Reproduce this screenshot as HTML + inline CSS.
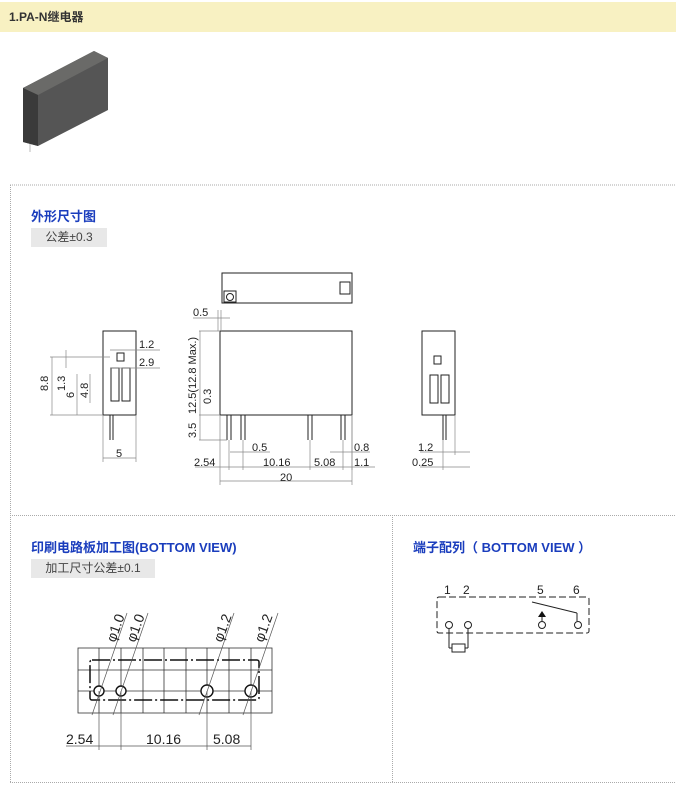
<!DOCTYPE html>
<html><head><meta charset="utf-8"><style>
body{margin:0;width:676px;height:785px;background:#fff;position:relative;font-family:"Liberation Sans","Noto Sans CJK SC",sans-serif;overflow:hidden}
.hdr{position:absolute;left:0;top:2px;width:676px;height:30px;background:#f8f1c2;font-size:12px;font-weight:bold;color:#333;line-height:30px;padding-left:9px;box-sizing:border-box}
.t{position:absolute;color:#1a3dbd;font-weight:bold;font-size:13px}
.tag{position:absolute;background:#e8e8e8;color:#444;font-size:12px;height:19px;line-height:19px;text-align:center}
svg{position:absolute;left:0;top:0}
</style></head><body>
<div class="hdr">1.PA-N继电器</div>
<div class="t" style="left:31px;top:206px">外形尺寸图</div>
<div class="tag" style="left:31px;top:228px;width:76px">公差±0.3</div>
<div class="t" style="left:31px;top:537px">印刷电路板加工图(BOTTOM VIEW)</div>
<div class="tag" style="left:31px;top:559px;width:124px">加工尺寸公差±0.1</div>
<div class="t" style="left:413px;top:537px">端子配列（ BOTTOM VIEW ）</div>
<svg width="676" height="785" font-family="Liberation Sans, sans-serif" font-size="11" fill="#222">
<g stroke="#aaa" stroke-dasharray="1,1" fill="none">
<line x1="10" y1="185" x2="676" y2="185"/><line x1="10.5" y1="185" x2="10.5" y2="782"/>
<line x1="10" y1="515.5" x2="676" y2="515.5"/><line x1="392.5" y1="515" x2="392.5" y2="782"/>
<line x1="10" y1="782.5" x2="676" y2="782.5"/></g>
<!-- relay photo -->
<polygon points="23,88 94,51 108,58 108,110 38,146 23,142" fill="#555"/>
<polygon points="23,88 94,51 108,58 38,95" fill="#6a6a68"/>
<polygon points="23,88 38,95 38,146 23,142" fill="#3a3a3a"/>
<line x1="30" y1="144" x2="30" y2="152" stroke="#bbb"/>
<g stroke="#222" fill="none" stroke-width="1">
<!-- top view -->
<rect x="222" y="273" width="130" height="30"/><rect x="224" y="291" width="12" height="11"/><circle cx="230" cy="297" r="3.5"/><rect x="340" y="282" width="10" height="12"/>
<!-- front -->
<rect x="220" y="331" width="132" height="84"/>
<line x1="227" y1="415" x2="227" y2="440"/><line x1="231" y1="415" x2="231" y2="440"/>
<line x1="241" y1="415" x2="241" y2="440"/><line x1="245" y1="415" x2="245" y2="440"/>
<line x1="308" y1="415" x2="308" y2="440"/><line x1="312" y1="415" x2="312" y2="440"/>
<line x1="341" y1="415" x2="341" y2="440"/><line x1="345" y1="415" x2="345" y2="440"/>
<!-- left side -->
<rect x="103" y="331" width="33" height="84"/>
<rect x="111" y="368" width="8" height="33"/><rect x="122" y="368" width="8" height="33"/><rect x="117" y="353" width="7" height="8"/>
<line x1="110" y1="415" x2="110" y2="440"/><line x1="113" y1="415" x2="113" y2="440"/>
<!-- right side -->
<rect x="422" y="331" width="33" height="84"/>
<rect x="430" y="375" width="8" height="28"/><rect x="441" y="375" width="8" height="28"/><rect x="434" y="356" width="7" height="8"/>
<line x1="443" y1="415" x2="443" y2="440"/><line x1="446" y1="415" x2="446" y2="440"/>
</g>
<g stroke="#888" stroke-width="0.7" fill="none">
<line x1="220" y1="415" x2="220" y2="485"/><line x1="352" y1="415" x2="352" y2="485"/><line x1="220" y1="481" x2="352" y2="481"/>
<line x1="229" y1="440" x2="229" y2="470"/><line x1="243" y1="440" x2="243" y2="470"/><line x1="310" y1="440" x2="310" y2="470"/><line x1="343" y1="440" x2="343" y2="470"/>
<line x1="195" y1="467" x2="375" y2="467"/><line x1="230" y1="452" x2="270" y2="452"/><line x1="330" y1="452" x2="370" y2="452"/>
<line x1="199" y1="331" x2="220" y2="331"/><line x1="199" y1="440" x2="227" y2="440"/><line x1="199" y1="415" x2="220" y2="415"/><line x1="200" y1="331" x2="200" y2="440"/>
<line x1="193" y1="318" x2="230" y2="318"/><line x1="218" y1="310" x2="218" y2="331"/><line x1="221" y1="310" x2="221" y2="331"/>
<line x1="103" y1="415" x2="103" y2="462"/><line x1="136" y1="415" x2="136" y2="462"/><line x1="103" y1="458" x2="136" y2="458"/>
<line x1="50" y1="357" x2="110" y2="357"/><line x1="50" y1="415" x2="103" y2="415"/><line x1="52" y1="357" x2="52" y2="415"/>
<line x1="77" y1="374" x2="77" y2="415"/><line x1="90" y1="374" x2="90" y2="403"/><line x1="66" y1="350" x2="66" y2="368"/>
<line x1="110" y1="350" x2="160" y2="350"/><line x1="110" y1="368" x2="160" y2="368"/>
<line x1="420" y1="452" x2="470" y2="452"/><line x1="420" y1="467" x2="470" y2="467"/><line x1="443" y1="440" x2="443" y2="470"/><line x1="455" y1="415" x2="455" y2="455"/>
<line x1="352" y1="415" x2="352" y2="470"/>
</g>
<g font-size="11">
<text x="193" y="316">0.5</text>
<text x="139" y="348">1.2</text><text x="139" y="366">2.9</text>
<text x="48" y="391" transform="rotate(-90 48 391)">8.8</text>
<text x="65" y="391" transform="rotate(-90 65 391)">1.3</text>
<text x="74" y="398" transform="rotate(-90 74 398)">6</text>
<text x="88" y="398" transform="rotate(-90 88 398)">4.8</text>
<text x="116" y="457">5</text>
<text x="196" y="414" transform="rotate(-90 196 414)">12.5(12.8 Max.)</text>
<text x="211" y="404" transform="rotate(-90 211 404)">0.3</text>
<text x="196" y="438" transform="rotate(-90 196 438)">3.5</text>
<text x="252" y="451">0.5</text><text x="354" y="451">0.8</text>
<text x="194" y="466">2.54</text><text x="263" y="466">10.16</text><text x="314" y="466">5.08</text><text x="354" y="466">1.1</text>
<text x="280" y="481">20</text>
<text x="418" y="451">1.2</text><text x="412" y="466">0.25</text>
</g>
<!-- PCB -->
<g stroke="#333" stroke-width="0.8" fill="none">
<rect x="78" y="648" width="194" height="65"/>
<line x1="78" y1="670" x2="272" y2="670"/><line x1="78" y1="691" x2="272" y2="691"/>
<line x1="99" y1="648" x2="99" y2="713"/><line x1="121" y1="648" x2="121" y2="713"/><line x1="143" y1="648" x2="143" y2="713"/><line x1="164" y1="648" x2="164" y2="713"/><line x1="186" y1="648" x2="186" y2="713"/><line x1="207" y1="648" x2="207" y2="713"/><line x1="229" y1="648" x2="229" y2="713"/><line x1="251" y1="648" x2="251" y2="713"/>
</g>
<rect x="90" y="660" width="169" height="40" rx="2" fill="none" stroke="#111" stroke-width="1.5" stroke-dasharray="18,3,2,3"/>
<g stroke="#111" stroke-width="1.4" fill="#fff"><circle cx="99" cy="691" r="5"/><circle cx="121" cy="691" r="5"/><circle cx="207" cy="691" r="6"/><circle cx="251" cy="691" r="6"/></g>
<g stroke="#555" stroke-width="0.7" fill="none">
<line x1="92" y1="715" x2="127" y2="613"/><line x1="113" y1="715" x2="148" y2="613"/><line x1="199" y1="715" x2="234" y2="613"/><line x1="243" y1="715" x2="278" y2="613"/>
<line x1="99" y1="691" x2="99" y2="750"/><line x1="121" y1="691" x2="121" y2="750"/><line x1="207" y1="691" x2="207" y2="750"/><line x1="251" y1="691" x2="251" y2="750"/>
<line x1="66" y1="746" x2="251" y2="746"/>
</g>
<g font-size="14">
<text x="115" y="643" transform="rotate(-70 115 643)">φ1.0</text>
<text x="135" y="643" transform="rotate(-70 135 643)">φ1.0</text>
<text x="222" y="643" transform="rotate(-70 222 643)">φ1.2</text>
<text x="263" y="643" transform="rotate(-70 263 643)">φ1.2</text>
<text x="66" y="744">2.54</text><text x="146" y="744">10.16</text><text x="213" y="744">5.08</text>
</g>
<!-- terminal -->
<rect x="437" y="597" width="152" height="36" rx="2" fill="none" stroke="#222" stroke-width="1" stroke-dasharray="7,3"/>
<g font-size="12"><text x="444" y="594">1</text><text x="463" y="594">2</text><text x="537" y="594">5</text><text x="573" y="594">6</text></g>
<g stroke="#222" fill="#fff"><line x1="532" y1="602" x2="577" y2="613" /><line x1="577" y1="613" x2="577" y2="621"/>
<line x1="449" y1="629" x2="449" y2="648"/><line x1="468" y1="629" x2="468" y2="648"/><line x1="449" y1="648" x2="452" y2="648"/><line x1="465" y1="648" x2="468" y2="648"/>
<rect x="452" y="644" width="13" height="8"/>
<circle cx="449" cy="625" r="3.5"/><circle cx="468" cy="625" r="3.5"/><circle cx="542" cy="625" r="3.5"/><circle cx="578" cy="625" r="3.5"/>
<line x1="542" y1="617" x2="542" y2="621"/></g>
<polygon points="538,617 546,617 542,611" fill="#111"/>
</svg>
</body></html>
